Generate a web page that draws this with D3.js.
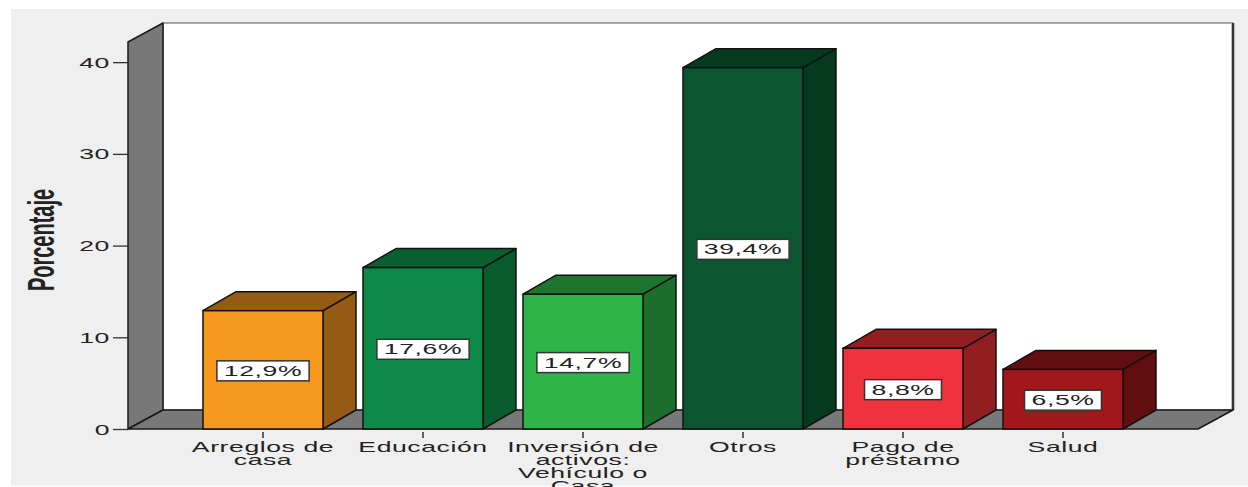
<!DOCTYPE html>
<html><head><meta charset="utf-8">
<script src="https://cdn.jsdelivr.net/npm/d3@7"></script>
<style>
html,body{margin:0;padding:0;background:#fff;}
svg{display:block;}
text{font-family:"Liberation Sans",Arial,sans-serif;fill:#222;}
</style></head>
<body>
<svg id="chart" width="1248" height="487"></svg>
<script>
// ---- data ----
const categories = ["Arreglos de casa", "Educación", "Inversión de activos: Vehículo o Casa", "Otros", "Pago de préstamo", "Salud"];
const categoryLines = [["Arreglos de", "casa"], ["Educación"], ["Inversión de", "activos:", "Vehículo o", "Casa"], ["Otros"], ["Pago de", "préstamo"], ["Salud"]];
const values = [12.9, 17.6, 14.7, 39.4, 8.8, 6.5];
const yTicks = [0, 10, 20, 30, 40];
const yTitle = "Porcentaje";

// ---- styles ----
const frontColors = ["#f7991e", "#0e8a48", "#2db54a", "#0b5530", "#ef333c", "#a3161b"];
const topColors   = ["#935b14", "#08602f", "#1e7530", "#063a1f", "#931e22", "#620e10"];
const sideColors  = ["#955a13", "#075b2d", "#1d6e2e", "#063a1f", "#931e22", "#620e10"];
const SX = 1.9;   // horizontal stretch of text
const LS = 0.3;   // letter spacing before stretch

const svg = d3.select("#chart");
const locale = d3.formatLocale({decimal: ",", thousands: ".", grouping: [3], currency: ["", "€"]});
const fmt = locale.format(".1f");

// panel background
svg.append("rect").attr("x", 11).attr("y", 9).attr("width", 1237).attr("height", 477).attr("fill", "#efefef");

const y = d3.scaleLinear().domain([0, 42.2]).range([429, 42]);
const x = d3.scaleBand().domain(categories).range([183, 1143]).paddingInner(0.25).paddingOuter(0.125);

const y0 = y(0), yTop = y(42.2);
const wallL = 128, wallDX = 35, wallDY = -19, floorR = 1198;
const bdx = 33, bdy = -19;

// back wall
svg.append("rect").attr("x", wallL + wallDX).attr("y", yTop + wallDY)
  .attr("width", floorR + wallDX - (wallL + wallDX)).attr("height", y0 - yTop)
  .attr("fill", "#fff").attr("stroke", "#555").attr("stroke-width", 1);
svg.append("line").attr("x1", floorR + wallDX).attr("x2", floorR + wallDX)
  .attr("y1", yTop + wallDY).attr("y2", y0 + wallDY)
  .attr("stroke", "#bbb").attr("stroke-width", 4);
svg.append("line").attr("x1", floorR + wallDX).attr("x2", floorR + wallDX)
  .attr("y1", yTop + wallDY).attr("y2", y0 + wallDY)
  .attr("stroke", "#333").attr("stroke-width", 2);

// left wall
svg.append("polygon")
  .attr("points", [[wallL, y0], [wallL, yTop], [wallL + wallDX, yTop + wallDY], [wallL + wallDX, y0 + wallDY]].join(" "))
  .attr("fill", "#787878").attr("stroke", "#1a1a1a").attr("stroke-width", 1.5).attr("stroke-linejoin", "round");
// floor
svg.append("polygon")
  .attr("points", [[wallL, y0], [floorR, y0], [floorR + wallDX, y0 + wallDY], [wallL + wallDX, y0 + wallDY]].join(" "))
  .attr("fill", "#787878").attr("stroke", "#1a1a1a").attr("stroke-width", 1.5).attr("stroke-linejoin", "round");

// y axis
const yAxis = svg.append("g").attr("transform", `translate(${wallL},0)`)
  .call(d3.axisLeft(y).tickValues(yTicks).tickSize(15).tickPadding(3));
yAxis.select(".domain").remove();
yAxis.selectAll(".tick line").attr("stroke", "#333").attr("stroke-width", 1.3);
yAxis.selectAll(".tick text").attr("fill", "#222").attr("font-size", 14)
  .attr("font-family", "Liberation Sans, Arial, sans-serif")
  .attr("letter-spacing", LS)
  .attr("x", 0).attr("dy", "0.36em")
  .attr("transform", `translate(-18,0) scale(${SX},1)`);

// y title
svg.append("text").attr("font-weight", "bold").attr("font-size", 20)
  .attr("text-anchor", "middle")
  .attr("transform", `translate(54,240) rotate(-90) scale(1,1.8)`)
  .attr("y", 0).text(yTitle);

// bars
const bars = svg.append("g").selectAll("g").data(categories).join("g");
bars.each(function(c, i) {
  const g = d3.select(this);
  const x0 = x(c), x1 = x(c) + x.bandwidth();
  const yt = y(values[i]);
  // side face
  g.append("polygon").attr("points", [[x1, y0], [x1, yt], [x1 + bdx, yt + bdy], [x1 + bdx, y0 + bdy]].join(" "))
    .attr("fill", sideColors[i]).attr("stroke", "#111").attr("stroke-width", 1.5).attr("stroke-linejoin", "round");
  // top face
  g.append("polygon").attr("points", [[x0, yt], [x1, yt], [x1 + bdx, yt + bdy], [x0 + bdx, yt + bdy]].join(" "))
    .attr("fill", topColors[i]).attr("stroke", "#111").attr("stroke-width", 1.5).attr("stroke-linejoin", "round");
  // front face
  g.append("rect").attr("x", x0).attr("y", yt).attr("width", x.bandwidth()).attr("height", y0 - yt)
    .attr("fill", frontColors[i]).attr("stroke", "#111").attr("stroke-width", 1.5);
  // value label
  const cx = x0 + x.bandwidth() / 2, cy = (yt + y0) / 2 + 1;
  const lab = g.append("g").attr("transform", `translate(${cx},${cy})`);
  const rect = lab.append("rect");
  const t = lab.append("text").attr("font-size", 14).attr("text-anchor", "middle").attr("dy", "0.36em")
    .attr("letter-spacing", LS)
    .attr("transform", `scale(${SX},1)`).attr("fill", "#222").text(fmt(values[i]) + "%");
  const w = t.node().getComputedTextLength() * SX + 14;
  rect.attr("x", -w / 2).attr("y", -10).attr("width", w).attr("height", 20)
    .attr("fill", "#fff").attr("stroke", "#333").attr("stroke-width", 1.5);
});

// x axis
const xAxis = svg.append("g").attr("transform", `translate(0,${y0})`)
  .call(d3.axisBottom(x).tickSize(9).tickPadding(0));
xAxis.select(".domain").remove();
xAxis.selectAll(".tick line").attr("y1", 3).attr("stroke", "#333").attr("stroke-width", 1.5);
xAxis.selectAll(".tick text").each(function(c) {
  const i = categories.indexOf(c);
  const t = d3.select(this).text(null).attr("y", 0).attr("dy", null)
    .attr("fill", "#222").attr("font-size", 14).attr("font-family", "Liberation Sans, Arial, sans-serif")
    .attr("letter-spacing", LS)
    .attr("transform", `translate(0,23) scale(${SX},1)`);
  categoryLines[i].forEach((ln, k) => {
    t.append("tspan").attr("x", 0).attr("y", k * 13).text(ln);
  });
});
</script>
</body></html>
